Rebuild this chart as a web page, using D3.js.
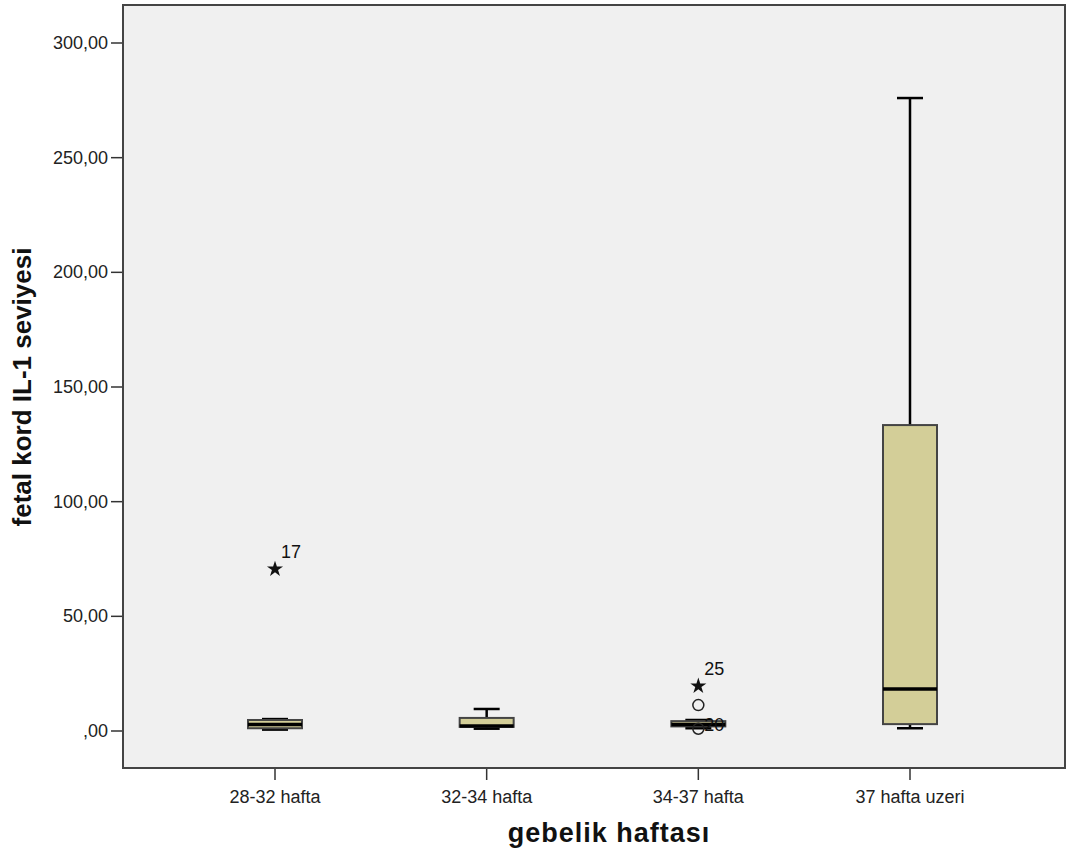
<!DOCTYPE html>
<html>
<head>
<meta charset="utf-8">
<script src="https://cdn.jsdelivr.net/npm/d3@7"></script>
<style>
  body { margin: 0; background: #fff; }
  text { font-family: "Liberation Sans", Arial, sans-serif; }
</style>
</head>
<body>
<script>
'use strict';

// categories and five-number summaries
const groups = ['28-32 hafta', '32-34 hafta', '34-37 hafta', '37 hafta uzeri'];
const whiskerLow = [0.6, 1.0, 1.2, 1.2];
const q1 = [1.2, 1.8, 2.0, 3.0];
const medians = [2.8, 2.2, 2.8, 18.3];
const q3 = [4.8, 5.7, 4.3, 133.4];
const whiskerHigh = [5.2, 9.6, 4.8, 276];

// outliers: group, value, marker type, case label
const outlierGroup = ['28-32 hafta', '34-37 hafta', '34-37 hafta', '34-37 hafta'];
const outlierValue = [70.6, 19.6, 11.3, 1.0];
const outlierKind = ['star', 'star', 'circle', 'circle'];
const outlierLabel = ['17', '25', '', '20'];

const yTicks = [0, 50, 100, 150, 200, 250, 300];

(function() {
  const width = 1072, height = 857;
  const plot = { left: 123, right: 1065, top: 5, bottom: 768 };

  const svg = d3.select('body').append('svg')
    .attr('width', width)
    .attr('height', height);

  // plot background
  svg.append('rect')
    .attr('x', plot.left).attr('y', plot.top)
    .attr('width', plot.right - plot.left)
    .attr('height', plot.bottom - plot.top)
    .attr('fill', '#f0f0f0');

  const x = d3.scalePoint()
    .domain(groups)
    .range([275, 910]);

  const y = d3.scaleLinear()
    .domain([0, 300])
    .range([731, 43]);

  const boxW = 54, capW = 26;

  // y axis ticks and labels
  const yAxis = svg.append('g');
  yAxis.selectAll('line').data(yTicks).enter().append('line')
    .attr('x1', plot.left - 12).attr('x2', plot.left)
    .attr('y1', d => y(d)).attr('y2', d => y(d))
    .attr('stroke', '#333').attr('stroke-width', 1.5);
  yAxis.selectAll('text').data(yTicks).enter().append('text')
    .attr('x', plot.left - 15)
    .attr('y', d => y(d) + 6)
    .attr('text-anchor', 'end')
    .style('font-size', '18px')
    .attr('fill', '#222')
    .text(d => d === 0 ? ',00' : d + ',00');

  // x axis ticks and labels
  const xAxis = svg.append('g');
  xAxis.selectAll('line').data(groups).enter().append('line')
    .attr('x1', d => x(d)).attr('x2', d => x(d))
    .attr('y1', plot.bottom).attr('y2', plot.bottom + 12)
    .attr('stroke', '#333').attr('stroke-width', 1.5);
  xAxis.selectAll('text').data(groups).enter().append('text')
    .attr('x', d => x(d))
    .attr('y', plot.bottom + 35)
    .attr('text-anchor', 'middle')
    .style('font-size', '18px')
    .attr('fill', '#222')
    .text(d => d);

  // boxplots
  groups.forEach((g, i) => {
    const cx = x(g);
    const gEl = svg.append('g');
    // whisker stems
    gEl.append('line')
      .attr('x1', cx).attr('x2', cx)
      .attr('y1', y(q3[i])).attr('y2', y(whiskerHigh[i]))
      .attr('stroke', '#000').attr('stroke-width', 2.5);
    gEl.append('line')
      .attr('x1', cx).attr('x2', cx)
      .attr('y1', y(q1[i])).attr('y2', y(whiskerLow[i]))
      .attr('stroke', '#000').attr('stroke-width', 2.5);
    // caps
    [whiskerHigh[i], whiskerLow[i]].forEach(v => {
      gEl.append('line')
        .attr('x1', cx - capW / 2).attr('x2', cx + capW / 2)
        .attr('y1', y(v)).attr('y2', y(v))
        .attr('stroke', '#000').attr('stroke-width', 2.5);
    });
    // box
    gEl.append('rect')
      .attr('x', cx - boxW / 2)
      .attr('y', y(q3[i]))
      .attr('width', boxW)
      .attr('height', Math.max(y(q1[i]) - y(q3[i]), 1))
      .attr('fill', '#d3ce98')
      .attr('stroke', '#444')
      .attr('stroke-width', 2);
    // median
    gEl.append('line')
      .attr('x1', cx - boxW / 2).attr('x2', cx + boxW / 2)
      .attr('y1', y(medians[i])).attr('y2', y(medians[i]))
      .attr('stroke', '#000').attr('stroke-width', 3.5);
  });

  // outliers
  const star = d3.symbol().type(d3.symbolStar).size(80);
  outlierValue.forEach((v, i) => {
    const cx = x(outlierGroup[i]);
    const cy = y(v);
    if (outlierKind[i] === 'star') {
      svg.append('path')
        .attr('d', star)
        .attr('transform', `translate(${cx},${cy})`)
        .attr('fill', '#111');
    } else {
      svg.append('circle')
        .attr('cx', cx).attr('cy', cy).attr('r', 5.5)
        .attr('fill', 'none')
        .attr('stroke', '#222').attr('stroke-width', 1.5);
    }
    if (outlierLabel[i]) {
      svg.append('text')
        .attr('x', cx + 6)
        .attr('y', outlierKind[i] === 'star' ? cy - 11 : cy + 2)
        .style('font-size', '18px')
        .attr('fill', '#111')
        .text(outlierLabel[i]);
    }
  });

  // frame
  svg.append('rect')
    .attr('x', plot.left).attr('y', plot.top)
    .attr('width', plot.right - plot.left)
    .attr('height', plot.bottom - plot.top)
    .attr('fill', 'none')
    .attr('stroke', '#444')
    .attr('stroke-width', 2);

  // axis titles
  svg.append('text')
    .attr('transform', 'translate(31, 387)rotate(-90)')
    .attr('text-anchor', 'middle')
    .style('font-size', '26px')
    .style('font-weight', 'bold')
    .attr('fill', '#111')
    .text('fetal kord IL-1 seviyesi');

  svg.append('text')
    .attr('x', 609)
    .attr('y', 842)
    .attr('text-anchor', 'middle')
    .style('font-size', '27px')
    .style('font-weight', 'bold')
    .style('letter-spacing', '1px')
    .attr('fill', '#111')
    .text('gebelik haftası');
})();
</script>
</body>
</html>
